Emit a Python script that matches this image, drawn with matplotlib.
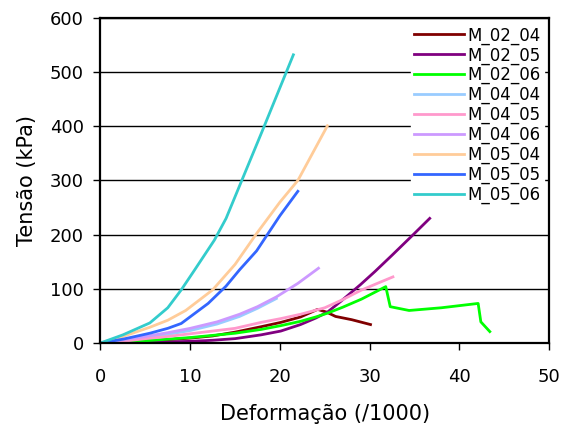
import matplotlib
matplotlib.use('Agg')
from matplotlib import pyplot as plt

# Deformação (/1000) vs Tensão (kPa) for each sample
x_02_04 = [0, 2.5, 5, 7.5, 10, 12.5, 15, 17.9, 20.1, 22.3, 24.2, 25.2, 26.2, 28, 30.1]
y_02_04 = [0, 1.5, 3.5, 6, 9, 13, 20, 30, 38, 48, 62, 57, 49, 43, 34]

x_02_05 = [0, 5, 10, 12.5, 15, 17.9, 20.1, 22.3, 24, 25.3, 26.8, 29, 30.6, 32.5, 34.8, 36.7]
y_02_05 = [0, 1, 3, 5, 8, 15, 22, 34, 46, 57, 77, 108, 132, 162, 199, 230]

x_02_06 = [0, 2.5, 5, 7.5, 10, 12.5, 15, 17.9, 20.1, 22.3, 24, 25.3, 27, 29.1, 31.8, 32.3, 34.4, 38, 42.1, 42.4, 43.4]
y_02_06 = [0, 1.5, 4, 7, 10, 14, 18, 25, 32, 40, 48, 55, 66, 81, 104, 67, 60, 65, 73, 39, 21]

x_04_04 = [0, 2.5, 5, 7.5, 10, 13, 15.5, 17.5, 19.6]
y_04_04 = [0, 5, 10, 16, 23, 35, 49, 64, 82]

x_04_05 = [0, 2.5, 5, 7.5, 10, 12.5, 15, 17.9, 20.1, 22.3, 25, 27, 29, 31, 32.6]
y_04_05 = [0, 3, 8, 12, 17, 22, 27, 38, 45, 53, 65, 80, 97, 111, 122]

x_04_06 = [0, 2.5, 5, 7.5, 10, 13, 15.5, 17.5, 19.6, 22, 24.3]
y_04_06 = [0, 6, 12, 19, 27, 39, 53, 67, 85, 110, 138]

x_05_04 = [0, 2.5, 5.5, 7.5, 9.5, 12.5, 15, 17.4, 20, 22, 25.3]
y_05_04 = [0, 12, 29, 42, 60, 98, 145, 202, 260, 300, 401]

x_05_05 = [0, 2.5, 5.5, 7.5, 9, 12, 14, 15.5, 17.4, 20, 22]
y_05_05 = [0, 7, 18, 27, 36, 73, 105, 135, 170, 235, 280]

x_05_06 = [0, 2.5, 5.5, 7.5, 9, 10.5, 12.7, 14, 16, 18, 21.5]
y_05_06 = [0, 15, 37, 65, 98, 135, 190, 230, 310, 390, 532]

series = [
    ('M_02_04', x_02_04, y_02_04, '#800000'),
    ('M_02_05', x_02_05, y_02_05, '#800080'),
    ('M_02_06', x_02_06, y_02_06, '#00FF00'),
    ('M_04_04', x_04_04, y_04_04, '#99CCFF'),
    ('M_04_05', x_04_05, y_04_05, '#FF99CC'),
    ('M_04_06', x_04_06, y_04_06, '#CC99FF'),
    ('M_05_04', x_05_04, y_05_04, '#FFCC99'),
    ('M_05_05', x_05_05, y_05_05, '#3366FF'),
    ('M_05_06', x_05_06, y_05_06, '#33CCCC'),
]

plt.rcParams['font.family'] = 'DejaVu Sans'

fig = plt.figure(figsize=(5.71, 4.25), dpi=100)
ax = fig.add_axes([0.176, 0.193, 0.7855, 0.7647])

for name, xs, ys, col in series:
    ax.plot(xs, ys, color=col, lw=2, label=name)

ax.set_xlim(0, 50)
ax.set_ylim(0, 600)
ax.set_xticks(range(0, 51, 10))
ax.set_yticks(range(0, 601, 100))
ax.yaxis.grid(True, color='black', lw=1)
ax.set_axisbelow(True)
for s in ax.spines.values():
    s.set_linewidth(1.6)
ax.tick_params(axis='both', direction='out', length=5, width=1, labelsize=13, colors='black')
ax.tick_params(axis='x', pad=13)
ax.tick_params(axis='y', pad=7)

ax.set_xlabel('Deformação (/1000)', fontsize=15, labelpad=13)
ax.set_ylabel('Tensão (kPa)', fontsize=15, labelpad=9)

leg = ax.legend(loc='upper right', fontsize=12, frameon=True, fancybox=False,
                edgecolor='white', framealpha=1, handlelength=3.0, handletextpad=0.2,
                labelspacing=0.1, borderaxespad=0.3, borderpad=0.2)

fig.savefig('out.png', dpi=100)
